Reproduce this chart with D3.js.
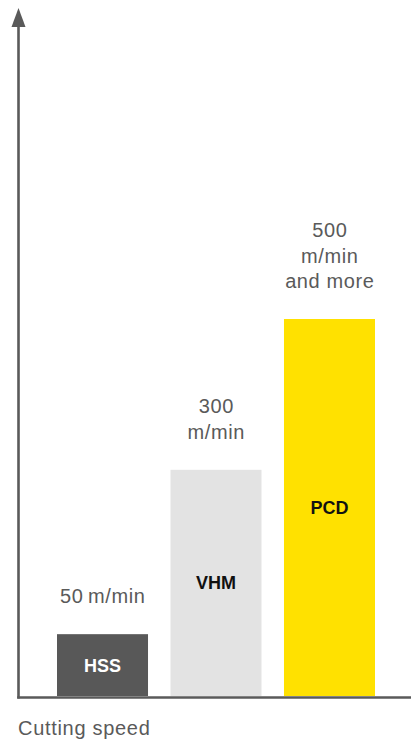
<!DOCTYPE html>
<html>
<head>
<meta charset="utf-8">
<script src="https://cdn.jsdelivr.net/npm/d3@7"></script>
<style>
  html, body { margin: 0; padding: 0; background: #fff; }
  svg { display: block; }
</style>
</head>
<body>
<svg id="chart" width="411" height="744"></svg>
<script>
// ---- data ----
const categories = ["HSS", "VHM", "PCD"];
// bar heights as drawn in the picture (in m/min scale units; HSS bar is drawn taller than to scale)
const barValues = [82, 300, 500];
const valueLabels = [["50\u2009m/min"], ["300", "m/min"], ["500", "m/min", "and more"]];
const barColors = ["#585858", "#e3e3e3", "#ffe100"];
const barTextColors = ["#ffffff", "#111111", "#111111"];
const axisTitle = "Cutting speed";

// ---- layout ----
const svg = d3.select("#chart");
const baseY = 696;
const x = d3.scaleBand().domain(categories).range([57, 375]).paddingInner(0.198).paddingOuter(0);
const y = d3.scaleLinear().domain([0, 500]).range([baseY, 319]);
const axisColor = "#5a5a5a";
const font = "'Liberation Sans', Arial, Helvetica, sans-serif";

// bars
svg.selectAll("rect.bar").data(categories).join("rect")
  .attr("class", "bar")
  .attr("x", d => x(d))
  .attr("width", x.bandwidth())
  .attr("y", (d, i) => y(barValues[i]))
  .attr("height", (d, i) => baseY - y(barValues[i]))
  .attr("fill", (d, i) => barColors[i]);

// bar labels (category)
svg.selectAll("text.cat").data(categories).join("text")
  .attr("class", "cat")
  .attr("x", d => x(d) + x.bandwidth() / 2)
  .attr("y", (d, i) => (y(barValues[i]) + baseY) / 2 + 6.5)
  .attr("text-anchor", "middle")
  .attr("font-family", font)
  .attr("font-weight", "bold")
  .attr("font-size", 18)
  .attr("fill", (d, i) => barTextColors[i])
  .text(d => d);

// value labels above bars
const lineH = 25.5;
categories.forEach((c, i) => {
  const lines = valueLabels[i];
  const lastBase = y(barValues[i]) - 31;
  const t = svg.append("text")
    .attr("text-anchor", "middle")
    .attr("font-family", font)
    .attr("font-size", 20)
    .attr("letter-spacing", 0.6)
    .attr("fill", "#5a5a5a");
  lines.forEach((l, j) => {
    t.append("tspan")
      .attr("x", x(c) + x.bandwidth() / 2 + 0.3)
      .attr("y", lastBase - (lines.length - 1 - j) * lineH)
      .text(l);
  });
});

// axes
svg.append("line")
  .attr("x1", 18.5).attr("x2", 18.5)
  .attr("y1", 698.5).attr("y2", 24)
  .attr("stroke", axisColor).attr("stroke-width", 2.6);
svg.append("path")
  .attr("d", "M18.5,8 L25.5,27 L11.5,27 Z")
  .attr("fill", axisColor);
svg.append("line")
  .attr("x1", 17.2).attr("x2", 411)
  .attr("y1", 697.5).attr("y2", 697.5)
  .attr("stroke", axisColor).attr("stroke-width", 2.6);

// axis title
svg.append("text")
  .attr("x", 18)
  .attr("y", 735)
  .attr("font-family", font)
  .attr("font-size", 20)
  .attr("letter-spacing", 0.7)
  .attr("fill", "#5a5a5a")
  .text(axisTitle);
</script>
</body>
</html>
